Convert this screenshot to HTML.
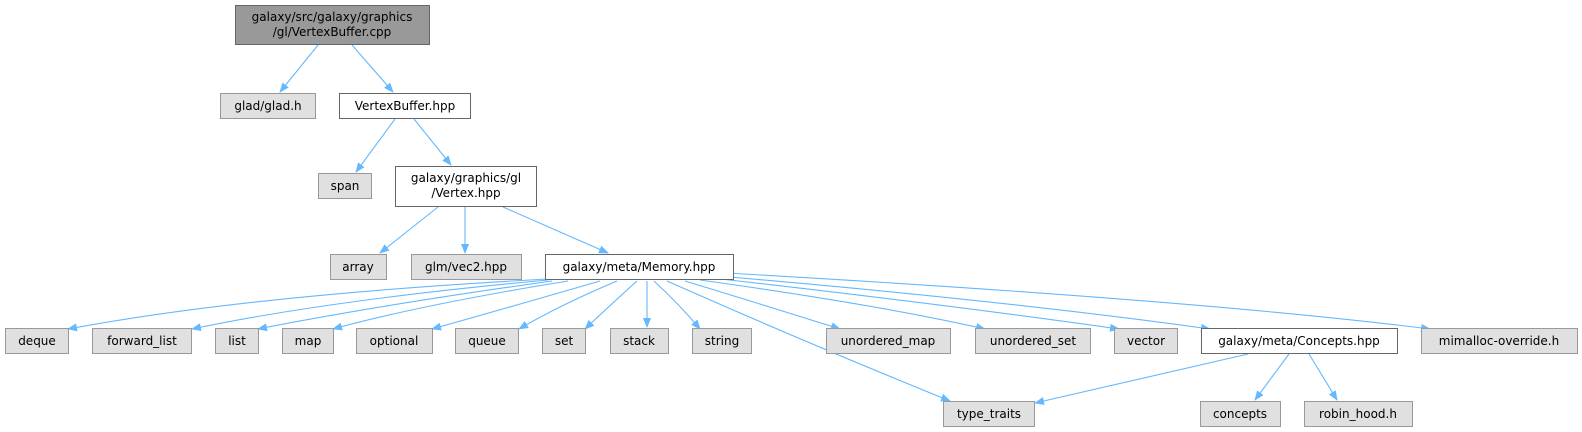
<!DOCTYPE html>
<html><head><meta charset="utf-8"><style>
body{margin:0;background:#fff;}
svg{display:block;}
text{font-family:"DejaVu Sans","Liberation Sans",sans-serif;font-size:12px;fill:#000;}
</style></head><body>
<svg width="1582" height="432" xmlns="http://www.w3.org/2000/svg">
<defs><marker id="a" markerWidth="10" markerHeight="8" refX="9" refY="4" orient="auto" markerUnits="userSpaceOnUse"><path d="M0,0 L10,4 L0,8 z" fill="#63b8ff"/></marker></defs>
<g fill="none" stroke="#63b8ff" stroke-width="1.1" marker-end="url(#a)">
<line x1="318" y1="45" x2="280" y2="92"/>
<line x1="352" y1="45" x2="393" y2="92"/>
<line x1="395" y1="119" x2="356" y2="172"/>
<line x1="414" y1="119" x2="451" y2="165"/>
<line x1="438" y1="207" x2="380" y2="253"/>
<line x1="465" y1="207" x2="465" y2="253"/>
<line x1="503" y1="207" x2="608" y2="253"/>
<path d="M548,279 Q250,295 68,329"/>
<path d="M548,280 Q330,300 192,329"/>
<path d="M552,281 Q380,305 258,329"/>
<path d="M568,281 Q420,305 333,329"/>
<path d="M600,281 Q500,310 432,329"/>
<path d="M617,281 Q560,305 519,329"/>
<path d="M637,281 Q605,310 585,329"/>
<line x1="647" y1="281" x2="647" y2="327"/>
<path d="M654,281 Q680,305 700,329"/>
<path d="M667,281 Q800,340 950,401"/>
<path d="M685,281 Q780,310 840,329"/>
<path d="M700,280 Q880,305 985,329"/>
<path d="M712,278 Q950,305 1119,329"/>
<path d="M718,276 Q1000,300 1210,329"/>
<path d="M726,273 Q1200,300 1430,329"/>
<line x1="1248" y1="354" x2="1035" y2="403"/>
<line x1="1289" y1="354" x2="1255" y2="400"/>
<line x1="1309" y1="354" x2="1337" y2="400"/>
</g>
<g stroke-width="1">
<rect x="235.5" y="5.5" width="194" height="39" fill="#999" stroke="#666"/>
<rect x="220.5" y="93.5" width="95" height="25" fill="#e0e0e0" stroke="#999"/>
<rect x="339.5" y="93.5" width="131" height="25" fill="#fff" stroke="#666"/>
<rect x="318.5" y="173.5" width="53" height="25" fill="#e0e0e0" stroke="#999"/>
<rect x="395.5" y="166.5" width="141" height="40" fill="#fff" stroke="#666"/>
<rect x="330.5" y="254.5" width="56" height="25" fill="#e0e0e0" stroke="#999"/>
<rect x="411.5" y="254.5" width="110" height="25" fill="#e0e0e0" stroke="#999"/>
<rect x="545.5" y="254.5" width="188" height="25" fill="#fff" stroke="#666"/>
<rect x="5.5" y="328.5" width="63" height="25" fill="#e0e0e0" stroke="#999"/>
<rect x="92.5" y="328.5" width="99" height="25" fill="#e0e0e0" stroke="#999"/>
<rect x="215.5" y="328.5" width="43" height="25" fill="#e0e0e0" stroke="#999"/>
<rect x="282.5" y="328.5" width="51" height="25" fill="#e0e0e0" stroke="#999"/>
<rect x="356.5" y="328.5" width="76" height="25" fill="#e0e0e0" stroke="#999"/>
<rect x="455.5" y="328.5" width="63" height="25" fill="#e0e0e0" stroke="#999"/>
<rect x="542.5" y="328.5" width="43" height="25" fill="#e0e0e0" stroke="#999"/>
<rect x="610.5" y="328.5" width="58" height="25" fill="#e0e0e0" stroke="#999"/>
<rect x="692.5" y="328.5" width="59" height="25" fill="#e0e0e0" stroke="#999"/>
<rect x="826.5" y="328.5" width="124" height="25" fill="#e0e0e0" stroke="#999"/>
<rect x="975.5" y="328.5" width="115" height="25" fill="#e0e0e0" stroke="#999"/>
<rect x="1114.5" y="328.5" width="63" height="25" fill="#e0e0e0" stroke="#999"/>
<rect x="1201.5" y="328.5" width="196" height="25" fill="#fff" stroke="#666"/>
<rect x="1421.5" y="328.5" width="156" height="25" fill="#e0e0e0" stroke="#999"/>
<rect x="943.5" y="401.5" width="91" height="25" fill="#e0e0e0" stroke="#999"/>
<rect x="1200.5" y="401.5" width="80" height="25" fill="#e0e0e0" stroke="#999"/>
<rect x="1304.5" y="401.5" width="108" height="25" fill="#e0e0e0" stroke="#999"/>
</g>
<g text-anchor="middle">
<text x="332" y="21">galaxy/src/galaxy/graphics</text>
<text x="332" y="36">/gl/VertexBuffer.cpp</text>
<text x="268" y="110">glad/glad.h</text>
<text x="405" y="110">VertexBuffer.hpp</text>
<text x="345" y="190">span</text>
<text x="466" y="182">galaxy/graphics/gl</text>
<text x="466" y="197">/Vertex.hpp</text>
<text x="358" y="271">array</text>
<text x="466" y="271">glm/vec2.hpp</text>
<text x="639" y="271">galaxy/meta/Memory.hpp</text>
<text x="37" y="345">deque</text>
<text x="142" y="345">forward_list</text>
<text x="237" y="345">list</text>
<text x="308" y="345">map</text>
<text x="394" y="345">optional</text>
<text x="487" y="345">queue</text>
<text x="564" y="345">set</text>
<text x="639" y="345">stack</text>
<text x="722" y="345">string</text>
<text x="888" y="345">unordered_map</text>
<text x="1033" y="345">unordered_set</text>
<text x="1146" y="345">vector</text>
<text x="1299" y="345">galaxy/meta/Concepts.hpp</text>
<text x="1499" y="345">mimalloc-override.h</text>
<text x="989" y="418">type_traits</text>
<text x="1240" y="418">concepts</text>
<text x="1358" y="418">robin_hood.h</text>
</g>
</svg>
</body></html>
